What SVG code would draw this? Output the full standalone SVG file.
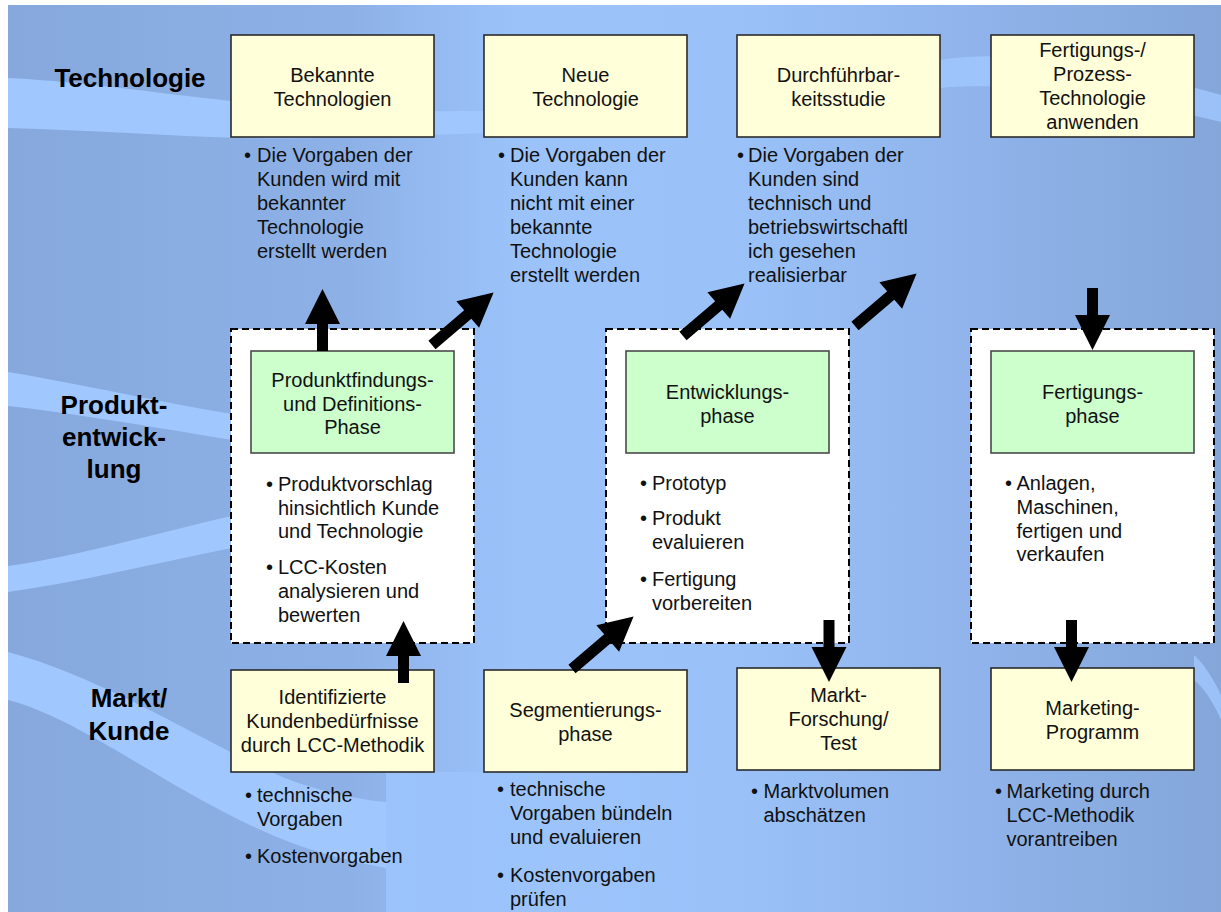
<svg xmlns="http://www.w3.org/2000/svg" xmlns:xlink="http://www.w3.org/1999/xlink" width="1221" height="912" viewBox="0 0 1221 912">
  <style>
    .lbl { font-family: "Liberation Sans", Arial, sans-serif; font-size: 26px; font-weight: bold; fill: #000; text-anchor: middle; }
    .t { font-family: "Liberation Sans", Arial, sans-serif; font-size: 20px; fill: #111; }
    .c { text-anchor: middle; }
    .ybox { fill: #ffffd9; stroke: #2b2b2b; stroke-width: 1.6; }
    .gbox { fill: #ccffcc; stroke: #4a4a4a; stroke-width: 1.6; }
    .dbox { fill: #ffffff; stroke: #000; stroke-width: 2; stroke-dasharray: 7 4; }
    .arrow { fill: #000; }
    .swoosh { fill: #a0c8ff; }
  </style>
  <defs>
    <linearGradient id="bg" x1="0" y1="0" x2="1" y2="0">
      <stop offset="0" stop-color="#86a8dc"/>
      <stop offset="0.28" stop-color="#8db1e7"/>
      <stop offset="0.42" stop-color="#9bc3fa"/>
      <stop offset="0.6" stop-color="#9ac2f8"/>
      <stop offset="0.8" stop-color="#8fb3ea"/>
      <stop offset="1" stop-color="#84a6d9"/>
    </linearGradient>
    <linearGradient id="fadeR" x1="0" y1="0" x2="1" y2="0">
      <stop offset="0" stop-color="#9dc5fd" stop-opacity="0.9"/>
      <stop offset="1" stop-color="#9dc5fd" stop-opacity="0"/>
    </linearGradient>
    <!-- block arrow pointing along +x, tail at origin -->
    <path id="arrD" d="M0,-5.5 H47 V-17.5 L81,0 L47,17.5 V5.5 H0 Z"/>
    <path id="arrV" d="M0,-5.5 H27 V-17.5 L62,0 L27,17.5 V5.5 H0 Z"/>
  </defs>

  <!-- background -->
  <rect x="0" y="0" width="1221" height="912" fill="#ffffff"/>
  <rect x="8" y="5" width="1213" height="907" fill="url(#bg)"/>
  <g id="background-swooshes">
    <path class="swoosh" d="M8,78 C90,82 170,95 240,102 C330,110 420,113 520,110 L520,132 C420,135 330,140 240,138 C170,136 90,130 8,128 Z"/>
    <path class="swoosh" d="M940,60 C1000,50 1100,60 1221,95 L1221,122 C1100,92 1000,82 940,88 Z" opacity="0.8"/>
    <path class="swoosh" d="M8,372 C80,384 170,404 232,414 L232,440 C170,430 80,414 8,406 Z"/>
    <path class="swoosh" d="M8,566 C80,556 160,532 232,516 L232,548 C160,562 80,582 8,592 Z"/>
    <path class="swoosh" d="M8,652 C100,676 200,740 280,776 C320,792 360,800 386,802 L386,868 C330,858 280,842 220,810 C140,768 70,716 8,700 Z"/>
    <path d="M386,772 L386,912 L720,912 L720,772 Z" fill="url(#fadeR)"/>
    <path class="swoosh" d="M1194,655 C1205,665 1214,680 1221,695 L1221,720 C1212,700 1204,688 1194,680 Z" opacity="0.8"/>
  </g>

  <!-- row labels -->
  <g id="row-labels">
    <text class="lbl" x="130" y="87">Technologie</text>
    <text class="lbl" x="114" y="414">Produkt-</text>
    <text class="lbl" x="114" y="446">entwick-</text>
    <text class="lbl" x="114" y="478">lung</text>
    <text class="lbl" x="129" y="707">Markt/</text>
    <text class="lbl" x="129" y="740">Kunde</text>
  </g>

  <!-- technology row -->
  <g id="bekannte-technologien">
    <rect class="ybox" x="231" y="35" width="203" height="102"/>
    <text class="t c" x="332.5" y="81.5">Bekannte</text>
    <text class="t c" x="332.5" y="105.5">Technologien</text>
    <text class="t" x="244" y="161.5">•</text>
    <text class="t" x="257" y="161.5">Die Vorgaben der</text>
    <text class="t" x="257" y="185.5">Kunden wird mit</text>
    <text class="t" x="257" y="209.5">bekannter</text>
    <text class="t" x="257" y="233.5">Technologie</text>
    <text class="t" x="257" y="257.5">erstellt werden</text>
  </g>
  <g id="neue-technologie">
    <rect class="ybox" x="484" y="35" width="203" height="102"/>
    <text class="t c" x="585.5" y="81.5">Neue</text>
    <text class="t c" x="585.5" y="105.5">Technologie</text>
    <text class="t" x="498" y="161.5">•</text>
    <text class="t" x="510" y="161.5">Die Vorgaben der</text>
    <text class="t" x="510" y="185.5">Kunden kann</text>
    <text class="t" x="510" y="209.5">nicht mit einer</text>
    <text class="t" x="510" y="233.5">bekannte</text>
    <text class="t" x="510" y="257.5">Technologie</text>
    <text class="t" x="510" y="281.5">erstellt werden</text>
  </g>
  <g id="durchfuehrbarkeitsstudie">
    <rect class="ybox" x="737" y="35" width="203" height="102"/>
    <text class="t c" x="838.5" y="81.5">Durchführbar-</text>
    <text class="t c" x="838.5" y="105.5">keitsstudie</text>
    <text class="t" x="737" y="161.5">•</text>
    <text class="t" x="748" y="161.5">Die Vorgaben der</text>
    <text class="t" x="748" y="185.5">Kunden sind</text>
    <text class="t" x="748" y="209.5">technisch und</text>
    <text class="t" x="748" y="233.5">betriebswirtschaftl</text>
    <text class="t" x="748" y="257.5">ich gesehen</text>
    <text class="t" x="748" y="281.5">realisierbar</text>
  </g>
  <g id="prozess-technologie">
    <rect class="ybox" x="991" y="35" width="203" height="102"/>
    <text class="t c" x="1092.5" y="57">Fertigungs-/</text>
    <text class="t c" x="1092.5" y="81">Prozess-</text>
    <text class="t c" x="1092.5" y="105">Technologie</text>
    <text class="t c" x="1092.5" y="129">anwenden</text>
  </g>

  <!-- product development row -->
  <g id="produktfindung">
    <rect class="dbox" x="231" y="329" width="243" height="314"/>
    <rect class="gbox" x="251" y="351" width="203" height="102"/>
    <text class="t c" x="352.5" y="386.5">Produnktfindungs-</text>
    <text class="t c" x="352.5" y="410.5">und Definitions-</text>
    <text class="t c" x="352.5" y="434">Phase</text>
    <text class="t" x="266" y="491">•</text>
    <text class="t" x="278" y="491">Produktvorschlag</text>
    <text class="t" x="278" y="514.5">hinsichtlich Kunde</text>
    <text class="t" x="278" y="538">und Technologie</text>
    <text class="t" x="266" y="574">•</text>
    <text class="t" x="278" y="574">LCC-Kosten</text>
    <text class="t" x="278" y="598">analysieren und</text>
    <text class="t" x="278" y="621.5">bewerten</text>
  </g>
  <g id="entwicklungsphase">
    <rect class="dbox" x="606" y="329" width="243" height="314"/>
    <rect class="gbox" x="626" y="351" width="203" height="102"/>
    <text class="t c" x="727.5" y="398.5">Entwicklungs-</text>
    <text class="t c" x="727.5" y="422.5">phase</text>
    <text class="t" x="640" y="489.5">•</text>
    <text class="t" x="652" y="489.5">Prototyp</text>
    <text class="t" x="640" y="524.5">•</text>
    <text class="t" x="652" y="524.5">Produkt</text>
    <text class="t" x="652" y="548.5">evaluieren</text>
    <text class="t" x="640" y="586">•</text>
    <text class="t" x="652" y="586">Fertigung</text>
    <text class="t" x="652" y="610">vorbereiten</text>
  </g>
  <g id="fertigungsphase">
    <rect class="dbox" x="971" y="329" width="243" height="314"/>
    <rect class="gbox" x="991" y="351" width="203" height="102"/>
    <text class="t c" x="1092.5" y="398.5">Fertigungs-</text>
    <text class="t c" x="1092.5" y="422.5">phase</text>
    <text class="t" x="1005" y="489.5">•</text>
    <text class="t" x="1016.5" y="489.5">Anlagen,</text>
    <text class="t" x="1016.5" y="513.5">Maschinen,</text>
    <text class="t" x="1016.5" y="537.5">fertigen und</text>
    <text class="t" x="1016.5" y="561">verkaufen</text>
  </g>

  <!-- market / customer row -->
  <g id="kundenbeduerfnisse">
    <rect class="ybox" x="231" y="670" width="203" height="102"/>
    <text class="t c" x="332.5" y="704">Identifizierte</text>
    <text class="t c" x="332.5" y="728">Kundenbedürfnisse</text>
    <text class="t c" x="332.5" y="752">durch LCC-Methodik</text>
    <text class="t" x="245" y="802">•</text>
    <text class="t" x="257" y="802">technische</text>
    <text class="t" x="257" y="826">Vorgaben</text>
    <text class="t" x="245" y="863">•</text>
    <text class="t" x="257" y="863">Kostenvorgaben</text>
  </g>
  <g id="segmentierungsphase">
    <rect class="ybox" x="484" y="670" width="203" height="102"/>
    <text class="t c" x="585.5" y="716.5">Segmentierungs-</text>
    <text class="t c" x="585.5" y="740.5">phase</text>
    <text class="t" x="497" y="796">•</text>
    <text class="t" x="510" y="796">technische</text>
    <text class="t" x="510" y="820">Vorgaben bündeln</text>
    <text class="t" x="510" y="844">und evaluieren</text>
    <text class="t" x="497" y="882">•</text>
    <text class="t" x="510" y="882">Kostenvorgaben</text>
    <text class="t" x="510" y="905.5">prüfen</text>
  </g>
  <g id="marktforschung">
    <rect class="ybox" x="737" y="668" width="203" height="102"/>
    <text class="t c" x="838.5" y="702">Markt-</text>
    <text class="t c" x="838.5" y="726">Forschung/</text>
    <text class="t c" x="838.5" y="750">Test</text>
    <text class="t" x="751" y="797.5">•</text>
    <text class="t" x="763.5" y="797.5">Marktvolumen</text>
    <text class="t" x="763.5" y="821.5">abschätzen</text>
  </g>
  <g id="marketing-programm">
    <rect class="ybox" x="991" y="668" width="203" height="102"/>
    <text class="t c" x="1092.5" y="714.5">Marketing-</text>
    <text class="t c" x="1092.5" y="738.5">Programm</text>
    <text class="t" x="995" y="797.5">•</text>
    <text class="t" x="1006.5" y="797.5">Marketing durch</text>
    <text class="t" x="1006.5" y="821.5">LCC-Methodik</text>
    <text class="t" x="1006.5" y="845.5">vorantreiben</text>
  </g>

  <!-- connectors -->
  <g id="connectors" class="arrow">
    <use xlink:href="#arrV" transform="translate(322.5,351) rotate(-90)"/>
    <use xlink:href="#arrD" transform="translate(432,345) rotate(-40.5)"/>
    <use xlink:href="#arrD" transform="translate(683,336) rotate(-40.5)"/>
    <use xlink:href="#arrD" transform="translate(855,326) rotate(-40.5)"/>
    <use xlink:href="#arrV" transform="translate(1092.5,288) rotate(90)"/>
    <use xlink:href="#arrV" transform="translate(403.5,683) rotate(-90)"/>
    <use xlink:href="#arrD" transform="translate(572,669) rotate(-40.5)"/>
    <use xlink:href="#arrV" transform="translate(829,620) rotate(90)"/>
    <use xlink:href="#arrV" transform="translate(1071.5,620) rotate(90)"/>
  </g>
</svg>
